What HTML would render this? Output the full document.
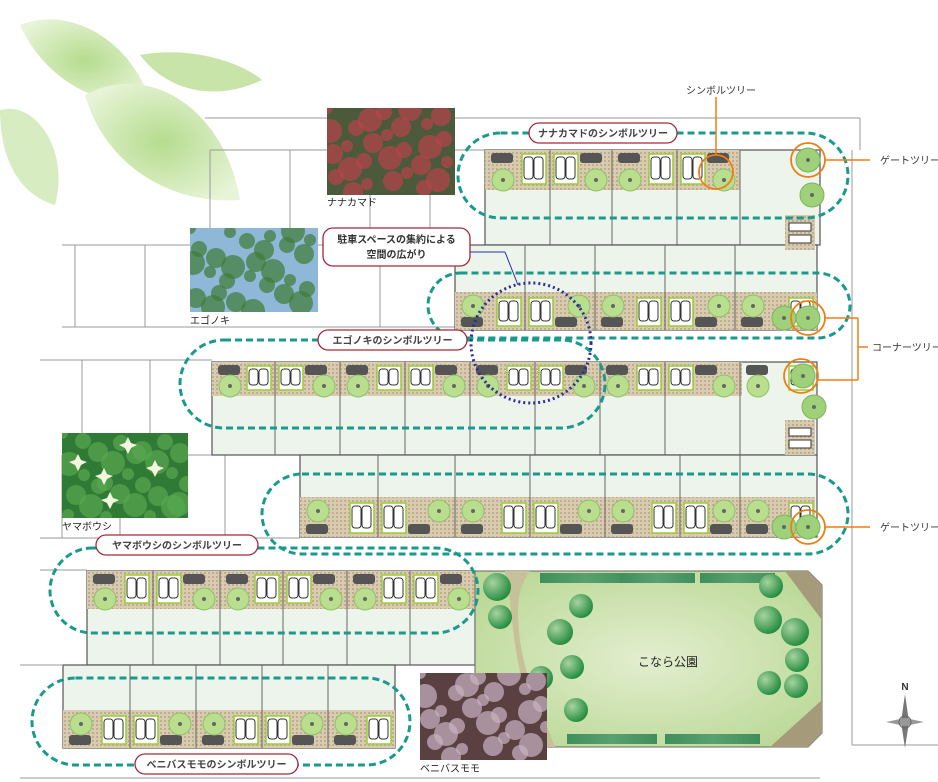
<!DOCTYPE html>
<html><head><meta charset="utf-8">
<style>
html,body{margin:0;padding:0;background:#fff;}
svg{display:block;}
text{font-family:"Liberation Sans","Noto Sans CJK JP",sans-serif;}
</style></head>
<body>
<svg id="s" width="938" height="782" viewBox="0 0 938 782" xmlns="http://www.w3.org/2000/svg">
<defs>
<pattern id="tile" width="4" height="4" patternUnits="userSpaceOnUse">
<rect width="4" height="4" fill="#d9cbb0"/><rect width="2" height="2" fill="#bfae8e"/></pattern>
<radialGradient id="park" cx="50%" cy="50%" r="60%"><stop offset="0" stop-color="#e3eecf"/><stop offset="1" stop-color="#bcd998"/></radialGradient>
<radialGradient id="ptree" cx="35%" cy="35%" r="70%"><stop offset="0" stop-color="#a8d3a0"/><stop offset="1" stop-color="#1f8a3c"/></radialGradient>
<radialGradient id="leaf" cx="50%" cy="50%" r="60%"><stop offset="0" stop-color="#b5dc8e"/><stop offset="1" stop-color="#e8f4d8"/></radialGradient>
<linearGradient id="hedge" x1="0" x2="1"><stop offset="0" stop-color="#3f8f5c"/><stop offset="0.5" stop-color="#5aa070"/><stop offset="1" stop-color="#3f8f5c"/></linearGradient>
<clipPath id="c1"><rect x="327" y="108" width="128" height="87"/></clipPath>
<clipPath id="c2"><rect x="190" y="228" width="128" height="84"/></clipPath>
<clipPath id="c3"><rect x="62" y="433" width="126" height="85"/></clipPath>
<clipPath id="c4"><rect x="420" y="673" width="127" height="87"/></clipPath>
</defs>
<!-- leaves -->
<g>
<path d="M20 25 C70 5 130 40 150 100 C100 110 45 80 20 25Z" fill="url(#leaf)"/>
<path d="M85 95 C150 60 225 110 240 200 C170 205 105 165 85 95Z" fill="url(#leaf)"/>
<path d="M140 55 C195 45 245 65 262 80 C220 100 170 95 140 55Z" fill="#c8e4a8"/>
<path d="M0 110 C35 100 70 150 55 205 C20 195 0 160 0 110Z" fill="#d8ecc2"/>
</g>
<g id="g"></g>
</svg>
<script>
const NS="http://www.w3.org/2000/svg";const G=document.getElementById('g');
function el(t,a,txt,p){const e=document.createElementNS(NS,t);for(const k in a)e.setAttribute(k,a[k]);if(txt!=null)e.textContent=txt;(p||G).appendChild(e);return e;}
function line(x1,y1,x2,y2,c,w){el('line',{x1,y1,x2,y2,stroke:c||'#888',"stroke-width":w||1});}
const gl=[[205,118,860,118],[62,245,455,245],[62,327,455,327],[40,360,212,360],[62,455,300,455],[40,538,300,538],[40,570,87,570],[20,665,62,665],[20,778,820,778],
[210,150,485,150],[210,150,210,245],[290,150,290,245],[370,150,370,245],[430,150,430,245],[75,245,75,327],[145,245,145,327],[380,245,380,327],
[82,360,82,455],[150,360,150,455],[62,455,62,538],[120,455,120,538],[225,455,225,538],[852,150,852,745],[852,745,938,745],[860,118,860,150]];
gl.forEach(l=>line(...l,'#999',1));
const B=[
{x:485,y:150,w:335,h:95,sy:150,sh:40,d:[550,612,677,740]},
{x:455,y:245,w:362,h:85,sy:292,sh:38,d:[525,595,665,735]},
{x:212,y:362,w:605,h:93,sy:362,sh:34,d:[275,340,405,470,535,600,665,740]},
{x:300,y:455,w:517,h:82,sy:497,sh:40,d:[378,455,530,605,680,740]},
{x:87,y:571,w:388,h:94,sy:571,sh:38,d:[153,220,283,347,410]},
{x:63,y:665,w:332,h:83,sy:710,sh:38,d:[130,196,262,328]}];
B.forEach((b,i)=>{
 el('rect',{x:b.x,y:b.y,width:b.w,height:b.h,fill:'#edf4ec',stroke:'#555','stroke-width':1.2});
 const sw=(i==0)?255:(i==2)?530:(i==3)?515:b.w;
 el('rect',{x:b.x,y:b.sy,width:sw,height:b.sh,fill:'url(#tile)'});
 b.d.forEach(x=>line(x,b.y,x,b.y+b.h,'#666',1));
 const xs=[b.x,...b.d];
 xs.forEach((x,j)=>{
   const nx=(j+1<xs.length)?xs[j+1]:b.x+b.w; if(i==0&&j==4)return; if(nx-x<30)return;
   const top=b.sy===b.y;
   const py=top?b.sy+4:b.sy+6;
   el('rect',{x:x+(j%2?4:nx-x-28),y:py,width:24,height:b.sh-10,fill:'#fff',stroke:'#9c3',"stroke-width":1.5});
   el('rect',{x:x+(j%2?6:nx-x-26),y:py+3,width:9,height:b.sh-18,rx:3,fill:'#fff',stroke:'#333'});
   el('rect',{x:x+(j%2?16:nx-x-16),y:py+3,width:9,height:b.sh-18,rx:3,fill:'#fff',stroke:'#333'});
   el('rect',{x:x+(j%2?30:6),y:top?b.sy+3:b.sy+b.sh-13,width:22,height:10,rx:3,fill:'#555'});
   const tx=x+(j%2?nx-x-16:18);
   el('circle',{cx:tx,cy:top?b.sy+b.sh-10:b.sy+14,r:11,fill:'#b8de8e',stroke:'#8fc067'});
   el('circle',{cx:tx,cy:top?b.sy+b.sh-10:b.sy+14,r:2,fill:'#666'});
 });
});
[[808,160],[812,195],[808,318],[784,318],[803,376],[814,407],[808,527],[784,527]].forEach(p=>{el('circle',{cx:p[0],cy:p[1],r:12,fill:'#9fd07a',stroke:'#7fb35a'});el('circle',{cx:p[0],cy:p[1],r:2,fill:'#666'});});
[[785,215],[785,420]].forEach(p=>{el('rect',{x:p[0],y:p[1],width:30,height:35,fill:'url(#tile)'});el('rect',{x:p[0]+4,y:p[1]+8,width:22,height:8,fill:'#fff',stroke:'#333'});el('rect',{x:p[0]+4,y:p[1]+20,width:22,height:8,fill:'#fff',stroke:'#333'});});
el('path',{d:'M475 571 L808 571 L822 585 L822 733 L808 747 L475 747Z',fill:'url(#park)',stroke:'#666'});
el('path',{d:'M808 571 L822 585 L822 620 L785 571Z',fill:'#a59a7a'});
el('path',{d:'M822 700 L822 733 L808 747 L770 747Z',fill:'#a59a7a'});
el('path',{d:'M505 571 L530 571 C520 585 515 600 520 640 C525 680 545 720 555 747 L540 747 C525 700 515 660 510 600Z',fill:'#c7c19a'});
[[540,573,92],[620,573,75],[700,573,75],[567,734,90],[665,734,95]].forEach(r=>el('rect',{x:r[0],y:r[1],width:r[2],height:10,fill:'url(#hedge)'}));
[[497,587,14],[500,617,12],[560,632,13],[541,678,12],[572,667,12],[576,710,12],[771,586,12],[768,620,14],[795,632,14],[797,660,12],[769,683,12],[796,686,12],[581,606,12]].forEach(t=>el('circle',{cx:t[0],cy:t[1],r:t[2],fill:'url(#ptree)'}));
el('text',{x:668,y:666,'font-size':12,'text-anchor':'middle',fill:'#222'},'こなら公園');
function stad(x,y,w,h){el('rect',{x,y,width:w,height:h,rx:h/2,ry:h/2,fill:'none',stroke:'#1a9a8c','stroke-width':3,'stroke-dasharray':'7 4'});}
stad(458,133,390,85);stad(428,273,422,65);stad(180,340,425,88);stad(262,474,586,80);stad(50,548,428,85);stad(32,678,378,87);
el('circle',{cx:531,cy:343,r:60,fill:'none',stroke:'#2a2f9a','stroke-width':3,'stroke-dasharray':'2 3'});
line(470,252,505,252,'#2a2f9a',1);line(505,252,518,285,'#2a2f9a',1);
[[808,160],[716,172],[808,318],[801,376],[808,527]].forEach(p=>el('circle',{cx:p[0],cy:p[1],r:17,fill:'none',stroke:'#f07d14','stroke-width':1.8}));
const O='#f07d14';
line(716,97,716,155,O,1.5);line(825,160,870,160,O,1.5);line(825,318,858,318,O,1.5);line(818,380,858,380,O,1.5);line(858,318,858,380,O,1.5);line(858,347,868,347,O,1.5);line(825,527,870,527,O,1.5);
el('text',{x:721,y:94,'font-size':10,'text-anchor':'middle',fill:'#333'},'シンボルツリー');
el('text',{x:880,y:164,'font-size':10,fill:'#333'},'ゲートツリー');
el('text',{x:872,y:351,'font-size':10,fill:'#333'},'コーナーツリー');
el('text',{x:880,y:531,'font-size':10,fill:'#333'},'ゲートツリー');
function pill(x,y,w,t,h){h=h||20;el('rect',{x,y,width:w,height:h,rx:10,fill:'#fff',stroke:'#a3283a','stroke-width':1.3});
 if(Array.isArray(t)){el('text',{x:x+w/2,y:y+15,'font-size':10,'text-anchor':'middle',fill:'#333','font-weight':'bold'},t[0]);el('text',{x:x+w/2,y:y+30,'font-size':10,'text-anchor':'middle',fill:'#333','font-weight':'bold'},t[1]);}
 else el('text',{x:x+w/2,y:y+14,'font-size':10,'text-anchor':'middle',fill:'#444','font-weight':'bold'},t);}
pill(529,123,148,'ナナカマドのシンボルツリー');
pill(323,228,147,['駐車スペースの集約による','空間の広がり'],38);
pill(318,330,149,'エゴノキのシンボルツリー');
pill(96,535,162,'ヤマボウシのシンボルツリー');
pill(135,754,163,'ベニバスモモのシンボルツリー');
function photo(x,y,w,h,c1,c2,lab,ly,cid){el('rect',{x,y,width:w,height:h,fill:c1});
 const g=el('g',{'clip-path':`url(#${cid})`});
 for(let i=0;i<28;i++){el('circle',{cx:x+((i*37)%w),cy:y+((i*53)%h),r:6+(i%4)*2,fill:c2,opacity:0.7},null,g);}
 el('text',{x:x,y:ly,'font-size':10,fill:'#222'},lab);}
photo(327,108,128,87,'#4a5a3a','#b8434a','ナナカマド',206,'c1');
photo(190,228,128,84,'#8fb7d8','#3f7a35','エゴノキ',324,'c2');
photo(62,433,126,85,'#2f7a35','#58a850','ヤマボウシ',530,'c3');
photo(420,673,127,87,'#5a4040','#c9b3c3','ベニバスモモ',772,'c4');
[[78,462],[104,476],[128,445],[110,500],[155,468]].forEach(p=>el('path',{d:`M${p[0]} ${p[1]-8} L${p[0]+3} ${p[1]-2} L${p[0]+9} ${p[1]} L${p[0]+3} ${p[1]+3} L${p[0]} ${p[1]+9} L${p[0]-3} ${p[1]+3} L${p[0]-9} ${p[1]} L${p[0]-3} ${p[1]-2}Z`,fill:'#f4f6e0'}));
el('text',{x:905,y:690,'font-size':10,'text-anchor':'middle',fill:'#333','font-weight':'bold'},'N');
el('path',{d:'M905 694 L909 722 L905 748 L901 722Z',fill:'#777'});
el('path',{d:'M886 722 L905 718 L924 722 L905 726Z',fill:'#999'});
el('circle',{cx:905,cy:722,r:6,fill:'none',stroke:'#666'});
</script>
</body></html>
